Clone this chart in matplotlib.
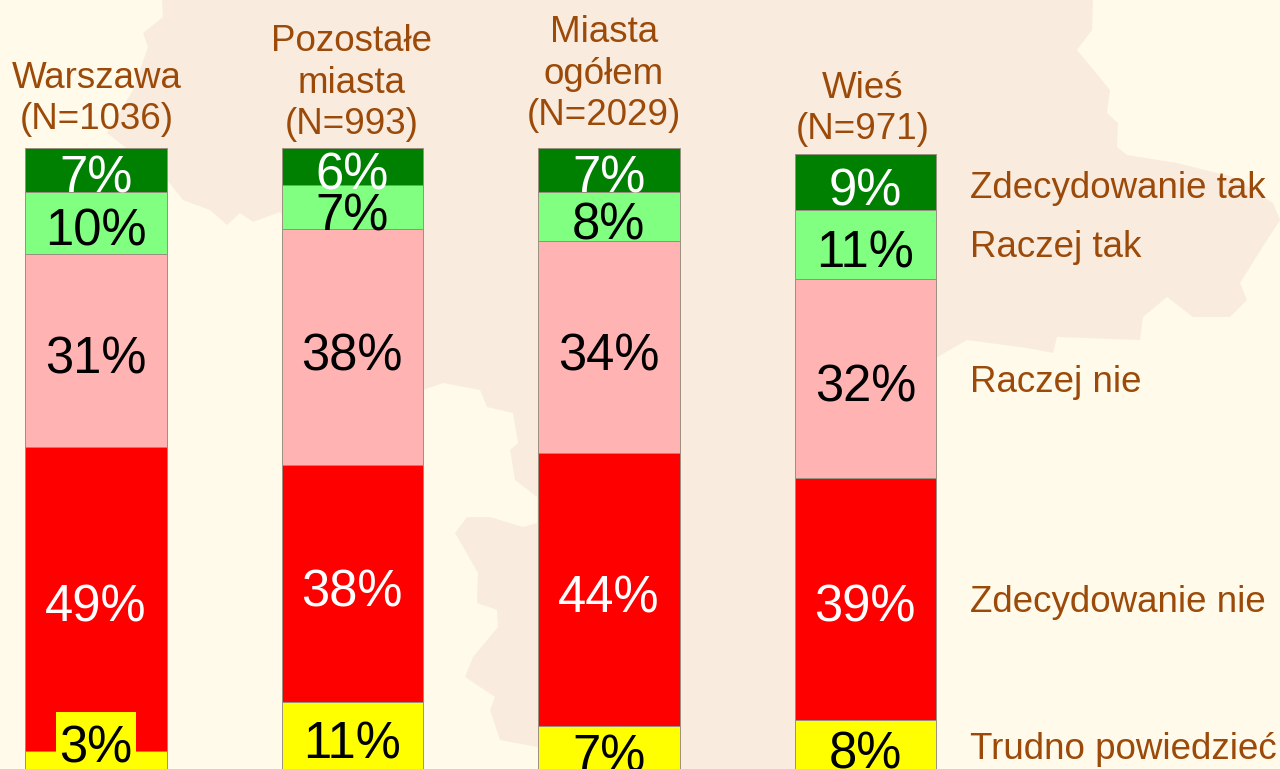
import matplotlib
matplotlib.use("Agg")
import matplotlib.pyplot as plt
from matplotlib.patches import Polygon, Rectangle

plt.rcParams['font.family'] = ['Liberation Sans', 'DejaVu Sans']

groups = ["Warszawa\n(N=1036)", "Pozostałe\nmiasta\n(N=993)", "Miasta\nogółem\n(N=2029)", "Wieś\n(N=971)"]
series = ["Trudno powiedzieć", "Zdecydowanie nie", "Raczej nie", "Raczej tak", "Zdecydowanie tak"]
trudno = [3, 11, 7, 8]
zdec_nie = [49, 38, 44, 39]
raczej_nie = [31, 38, 34, 32]
raczej_tak = [10, 7, 8, 11]
zdec_tak = [7, 6, 7, 9]
colors = ["#FFFF00", "#FF0000", "#FFB3B3", "#80FF80", "#008000"]
text_colors = ["black", "white", "black", "black", "white"]
values = [trudno, zdec_nie, raczej_nie, raczej_tak, zdec_tak]

W, H = 1280, 769
BROWN = "#9C4A09"
fig = plt.figure(figsize=(W / 100, H / 100), dpi=100, facecolor="#FFFAEA")

# Faint map silhouette behind everything (pixel coordinates, decoration)
bg = fig.add_axes([0, 0, 1, 1], zorder=0)
bg.set_xlim(0, W); bg.set_ylim(H, 0); bg.axis("off")
outline = [(162, 0), (163, 17), (143, 33), (148, 47), (133, 90), (107, 133), (167, 180), (183, 200),
           (210, 210), (227, 225), (240, 213), (253, 222), (280, 212), (423, 357), (423, 390),
           (443, 383), (480, 390), (487, 407), (513, 413), (518, 443), (510, 450), (515, 480),
           (537, 497), (537, 523), (523, 527), (490, 517), (467, 517), (455, 533), (478, 573),
           (477, 603), (497, 610), (498, 627), (473, 657), (465, 677), (495, 697), (490, 710),
           (500, 740), (537, 747), (560, 769), (800, 769), (860, 600), (936, 358), (967, 340),
           (1027, 348), (1053, 353), (1057, 337), (1140, 340), (1143, 317), (1167, 297), (1193, 317),
           (1230, 317), (1247, 300), (1240, 283), (1267, 240), (1280, 220), (1273, 203), (1233, 177),
           (1177, 163), (1127, 155), (1117, 147), (1118, 123), (1107, 113), (1110, 90), (1077, 50),
           (1092, 30), (1093, 0)]
bg.add_patch(Polygon(outline, closed=True, fc="#F9ECDE", ec="none"))

# Plot axes: x in bar-slot units, y in percent; 6.22 px per percent, baseline just below the image
ax = fig.add_axes([0, 0, 1, 1], zorder=1)
ax.patch.set_alpha(0)
ax.axis("off")
px_per_x = 256.5
py = 6.22
ax.set_xlim(-95.8 / px_per_x, (W - 95.8) / px_per_x)
ax.set_ylim(1 / py, 770 / py)

positions = range(len(groups))
bottom = [0, 0, 0, 0]
for vals, col, tc in zip(values, colors, text_colors):
    ax.bar(positions, vals, width=141.5 / px_per_x, bottom=bottom, color=col, edgecolor="#9A9080", linewidth=0.7)
    for i, v in enumerate(vals):
        y = bottom[i] + v / 2 - 4 / py
        if v == 3:
            ax.add_patch(Rectangle((i - 40 / px_per_x, 0), 80 / px_per_x, 9.4, fc=col, ec="none", zorder=3))
            y = 4.2
        ax.text(i, y, f"{v}%", color=tc, ha="center", va="center_baseline", fontsize=36.5, zorder=4)
    bottom = [b + v for b, v in zip(bottom, vals)]

label_dx = [1, -1, -5, -3]
label_gap = [31, 26, 35, 27]
for i, (g, b) in enumerate(zip(groups, bottom)):
    ax.text(i + label_dx[i] / px_per_x, b + (label_gap[i] - 20) / py, g, color=BROWN,
            ha="center", va="bottom", fontsize=26.5, linespacing=1.24)

legend_y = [746, 599, 379, 244, 185]
for name, yp in zip(series, legend_y):
    ax.text((970 - 95.8) / px_per_x, (770 - yp - 3.5) / py, name, color=BROWN, ha="left", va="center", fontsize=26.5)

fig.savefig("out.png", dpi=100, facecolor=fig.get_facecolor())
